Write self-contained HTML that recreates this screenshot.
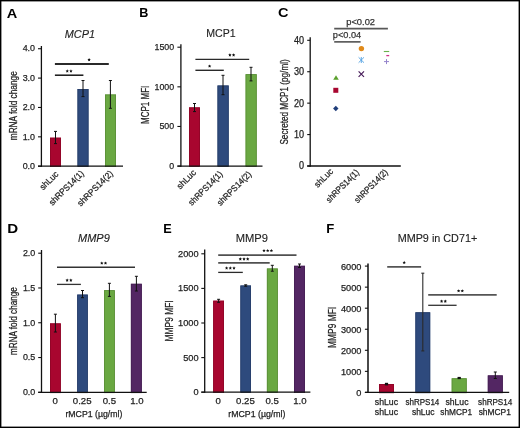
<!DOCTYPE html>
<html><head><meta charset="utf-8"><style>
html,body{margin:0;padding:0;background:#fff;}
svg{display:block;font-family:"Liberation Sans",sans-serif;will-change:transform;}
</style></head><body>
<svg width="520" height="428" viewBox="0 0 520 428">
<rect width="520" height="428" fill="#fff"/>
<rect x="0.7" y="0.7" width="518.6" height="426.6" fill="none" stroke="#000" stroke-width="1.4"/>
<text x="6.85" y="18.1" font-size="13.3" font-weight="bold" textLength="10.51" lengthAdjust="spacingAndGlyphs" fill="#000">A</text>
<text x="139.35" y="16.75" font-size="13.3" font-weight="bold" textLength="9.11" lengthAdjust="spacingAndGlyphs" fill="#000">B</text>
<text x="277.95" y="16.9" font-size="13.3" font-weight="bold" textLength="10.51" lengthAdjust="spacingAndGlyphs" fill="#000">C</text>
<text x="7.15" y="232.95" font-size="13.3" font-weight="bold" textLength="10.91" lengthAdjust="spacingAndGlyphs" fill="#000">D</text>
<text x="163.2" y="232.95" font-size="13.3" font-weight="bold" textLength="8.47" lengthAdjust="spacingAndGlyphs" fill="#000">E</text>
<text x="326.35" y="232.95" font-size="13.3" font-weight="bold" textLength="8.02" lengthAdjust="spacingAndGlyphs" fill="#000">F</text>
<rect x="50" y="137.7" width="11" height="28.5" fill="#a8062f"/>
<rect x="50.40" y="138.10" width="10.20" height="28.50" fill="none" stroke="#8e0527" stroke-width="0.8"/>
<rect x="77.5" y="89" width="11.0" height="77.19999999999999" fill="#2e4a7d"/>
<rect x="77.90" y="89.40" width="10.20" height="77.20" fill="none" stroke="#273e6a" stroke-width="0.8"/>
<rect x="105" y="94.5" width="11" height="71.69999999999999" fill="#6aa842"/>
<rect x="105.40" y="94.90" width="10.20" height="71.70" fill="none" stroke="#5a8e38" stroke-width="0.8"/>
<line x1="55.5" y1="131.4" x2="55.5" y2="143.6" stroke="#111" stroke-width="1.0"/>
<line x1="54.0" y1="131.4" x2="57.0" y2="131.4" stroke="#111" stroke-width="1.0"/>
<line x1="54.0" y1="143.6" x2="57.0" y2="143.6" stroke="#111" stroke-width="1.0"/>
<line x1="83" y1="80.5" x2="83" y2="96.6" stroke="#111" stroke-width="1.0"/>
<line x1="81.5" y1="80.5" x2="84.5" y2="80.5" stroke="#111" stroke-width="1.0"/>
<line x1="81.5" y1="96.6" x2="84.5" y2="96.6" stroke="#111" stroke-width="1.0"/>
<line x1="110.4" y1="80.5" x2="110.4" y2="108.3" stroke="#111" stroke-width="1.0"/>
<line x1="108.9" y1="80.5" x2="111.9" y2="80.5" stroke="#111" stroke-width="1.0"/>
<line x1="108.9" y1="108.3" x2="111.9" y2="108.3" stroke="#111" stroke-width="1.0"/>
<line x1="41.4" y1="46" x2="41.4" y2="166.85" stroke="#111" stroke-width="1.3"/>
<line x1="38" y1="166.2" x2="123" y2="166.2" stroke="#111" stroke-width="1.3"/>
<line x1="38" y1="166.2" x2="41.4" y2="166.2" stroke="#111" stroke-width="1.1"/>
<text x="35.05" y="168.9" font-size="9.8" text-anchor="end" textLength="12.4" lengthAdjust="spacingAndGlyphs" fill="#222" stroke="#222" stroke-width="0.25">0.0</text>
<line x1="38" y1="136.82999999999998" x2="41.4" y2="136.82999999999998" stroke="#111" stroke-width="1.1"/>
<text x="35.05" y="139.53" font-size="9.8" text-anchor="end" textLength="12.4" lengthAdjust="spacingAndGlyphs" fill="#222" stroke="#222" stroke-width="0.25">1.0</text>
<line x1="38" y1="107.45999999999998" x2="41.4" y2="107.45999999999998" stroke="#111" stroke-width="1.1"/>
<text x="35.05" y="110.16" font-size="9.8" text-anchor="end" textLength="12.4" lengthAdjust="spacingAndGlyphs" fill="#222" stroke="#222" stroke-width="0.25">2.0</text>
<line x1="38" y1="78.08999999999999" x2="41.4" y2="78.08999999999999" stroke="#111" stroke-width="1.1"/>
<text x="35.05" y="80.79" font-size="9.8" text-anchor="end" textLength="12.4" lengthAdjust="spacingAndGlyphs" fill="#222" stroke="#222" stroke-width="0.25">3.0</text>
<line x1="38" y1="48.719999999999985" x2="41.4" y2="48.719999999999985" stroke="#111" stroke-width="1.1"/>
<text x="35.05" y="51.42" font-size="9.8" text-anchor="end" textLength="12.4" lengthAdjust="spacingAndGlyphs" fill="#222" stroke="#222" stroke-width="0.25">4.0</text>
<line x1="54.9" y1="64" x2="108.8" y2="64" stroke="#2a2a2a" stroke-width="1.8"/>
<line x1="54.9" y1="75.2" x2="83.4" y2="75.2" stroke="#151515" stroke-width="1.5"/>
<polygon points="89.10,58.05 89.61,59.09 90.76,59.26 89.93,60.07 90.13,61.22 89.10,60.67 88.07,61.22 88.27,60.07 87.44,59.26 88.59,59.09" fill="#111"/>
<polygon points="67.25,69.35 67.76,70.39 68.91,70.56 68.08,71.37 68.28,72.52 67.25,71.97 66.22,72.52 66.42,71.37 65.59,70.56 66.74,70.39" fill="#111"/>
<polygon points="70.95,69.35 71.46,70.39 72.61,70.56 71.78,71.37 71.98,72.52 70.95,71.97 69.92,72.52 70.12,71.37 69.29,70.56 70.44,70.39" fill="#111"/>
<text x="64.75" y="38.2" font-size="11.0" font-style="italic" textLength="30.26" lengthAdjust="spacingAndGlyphs" fill="#222" stroke="#222" stroke-width="0.12">MCP1</text>
<text x="17.35" y="140.25" font-size="10.4" textLength="69.02" lengthAdjust="spacingAndGlyphs" transform="rotate(-90 17.35 140.25)" fill="#222" stroke="#222" stroke-width="0.25">mRNA fold change</text>
<text x="59.0" y="174.65" font-size="8.8" text-anchor="end" textLength="22.43" lengthAdjust="spacingAndGlyphs" transform="rotate(-45 59.0 174.65)" fill="#222" stroke="#222" stroke-width="0.25">shLuc</text>
<text x="84.4" y="174.0" font-size="8.8" text-anchor="end" textLength="45.24" lengthAdjust="spacingAndGlyphs" transform="rotate(-45 84.4 174.0)" fill="#222" stroke="#222" stroke-width="0.25">shRPS14(1)</text>
<text x="113.5" y="174.05" font-size="8.8" text-anchor="end" textLength="46.37" lengthAdjust="spacingAndGlyphs" transform="rotate(-45 113.5 174.05)" fill="#222" stroke="#222" stroke-width="0.25">shRPS14(2)</text>
<rect x="189" y="107.4" width="11" height="58.69999999999999" fill="#a8062f"/>
<rect x="189.40" y="107.80" width="10.20" height="58.70" fill="none" stroke="#8e0527" stroke-width="0.8"/>
<rect x="217.5" y="85.5" width="11.199999999999989" height="80.6" fill="#2e4a7d"/>
<rect x="217.90" y="85.90" width="10.40" height="80.60" fill="none" stroke="#273e6a" stroke-width="0.8"/>
<rect x="245.6" y="74.2" width="11.099999999999994" height="91.89999999999999" fill="#6aa842"/>
<rect x="246.00" y="74.60" width="10.30" height="91.90" fill="none" stroke="#5a8e38" stroke-width="0.8"/>
<line x1="194.5" y1="103.5" x2="194.5" y2="111.6" stroke="#111" stroke-width="1.0"/>
<line x1="193.0" y1="103.5" x2="196.0" y2="103.5" stroke="#111" stroke-width="1.0"/>
<line x1="193.0" y1="111.6" x2="196.0" y2="111.6" stroke="#111" stroke-width="1.0"/>
<line x1="223" y1="75.3" x2="223" y2="94.7" stroke="#111" stroke-width="1.0"/>
<line x1="221.5" y1="75.3" x2="224.5" y2="75.3" stroke="#111" stroke-width="1.0"/>
<line x1="221.5" y1="94.7" x2="224.5" y2="94.7" stroke="#111" stroke-width="1.0"/>
<line x1="251" y1="67.3" x2="251" y2="80.9" stroke="#111" stroke-width="1.0"/>
<line x1="249.5" y1="67.3" x2="252.5" y2="67.3" stroke="#111" stroke-width="1.0"/>
<line x1="249.5" y1="80.9" x2="252.5" y2="80.9" stroke="#111" stroke-width="1.0"/>
<line x1="180.9" y1="44.2" x2="180.9" y2="166.75" stroke="#111" stroke-width="1.3"/>
<line x1="177.4" y1="166.1" x2="262.5" y2="166.1" stroke="#111" stroke-width="1.3"/>
<line x1="177.4" y1="166.1" x2="180.9" y2="166.1" stroke="#111" stroke-width="1.1"/>
<text x="174.17" y="168.9" font-size="9.9" text-anchor="end" textLength="4.9" lengthAdjust="spacingAndGlyphs" fill="#222" stroke="#222" stroke-width="0.25">0</text>
<line x1="177.4" y1="126.46666666666667" x2="180.9" y2="126.46666666666667" stroke="#111" stroke-width="1.1"/>
<text x="174.17" y="129.27" font-size="9.9" text-anchor="end" textLength="14.7" lengthAdjust="spacingAndGlyphs" fill="#222" stroke="#222" stroke-width="0.25">500</text>
<line x1="177.4" y1="86.83333333333333" x2="180.9" y2="86.83333333333333" stroke="#111" stroke-width="1.1"/>
<text x="174.17" y="89.63" font-size="9.9" text-anchor="end" textLength="19.6" lengthAdjust="spacingAndGlyphs" fill="#222" stroke="#222" stroke-width="0.25">1000</text>
<line x1="177.4" y1="47.19999999999999" x2="180.9" y2="47.19999999999999" stroke="#111" stroke-width="1.1"/>
<text x="174.17" y="50.0" font-size="9.9" text-anchor="end" textLength="19.6" lengthAdjust="spacingAndGlyphs" fill="#222" stroke="#222" stroke-width="0.25">1500</text>
<line x1="195.4" y1="59.4" x2="249.2" y2="59.4" stroke="#2a2a2a" stroke-width="1.4"/>
<line x1="195.4" y1="70.3" x2="223.8" y2="70.3" stroke="#2a2a2a" stroke-width="1.4"/>
<polygon points="229.90,53.25 230.41,54.29 231.56,54.46 230.73,55.27 230.93,56.42 229.90,55.88 228.87,56.42 229.07,55.27 228.24,54.46 229.39,54.29" fill="#111"/>
<polygon points="233.60,53.25 234.11,54.29 235.26,54.46 234.43,55.27 234.63,56.42 233.60,55.88 232.57,56.42 232.77,55.27 231.94,54.46 233.09,54.29" fill="#111"/>
<polygon points="209.60,64.45 210.11,65.49 211.26,65.66 210.43,66.47 210.63,67.62 209.60,67.08 208.57,67.62 208.77,66.47 207.94,65.66 209.09,65.49" fill="#111"/>
<text x="206.15" y="36.7" font-size="11.0" textLength="29.46" lengthAdjust="spacingAndGlyphs" fill="#222" stroke="#222" stroke-width="0.12">MCP1</text>
<text x="149.45" y="124.05" font-size="11.0" textLength="38.36" lengthAdjust="spacingAndGlyphs" transform="rotate(-90 149.45 124.05)" fill="#222" stroke="#222" stroke-width="0.25">MCP1 MFI</text>
<text x="196.67" y="173.15" font-size="8.8" text-anchor="end" textLength="23.35" lengthAdjust="spacingAndGlyphs" transform="rotate(-45 196.67 173.15)" fill="#222" stroke="#222" stroke-width="0.25">shLuc</text>
<text x="223.23" y="174.6" font-size="8.8" text-anchor="end" textLength="44.46" lengthAdjust="spacingAndGlyphs" transform="rotate(-45 223.23 174.6)" fill="#222" stroke="#222" stroke-width="0.25">shRPS14(1)</text>
<text x="251.87" y="174.8" font-size="8.8" text-anchor="end" textLength="44.46" lengthAdjust="spacingAndGlyphs" transform="rotate(-45 251.87 174.8)" fill="#222" stroke="#222" stroke-width="0.25">shRPS14(2)</text>
<line x1="310.2" y1="37.3" x2="310.2" y2="166.65" stroke="#111" stroke-width="1.3"/>
<line x1="307.2" y1="166" x2="400.8" y2="166" stroke="#111" stroke-width="1.3"/>
<line x1="307.2" y1="166.0" x2="310.2" y2="166.0" stroke="#111" stroke-width="1.1"/>
<text x="304.12" y="169.4" font-size="10" text-anchor="end" textLength="5.06" lengthAdjust="spacingAndGlyphs" fill="#222" stroke="#222" stroke-width="0.25">0</text>
<line x1="307.2" y1="134.575" x2="310.2" y2="134.575" stroke="#111" stroke-width="1.1"/>
<text x="304.12" y="137.97" font-size="10" text-anchor="end" textLength="10.12" lengthAdjust="spacingAndGlyphs" fill="#222" stroke="#222" stroke-width="0.25">10</text>
<line x1="307.2" y1="103.15" x2="310.2" y2="103.15" stroke="#111" stroke-width="1.1"/>
<text x="304.12" y="106.55" font-size="10" text-anchor="end" textLength="10.12" lengthAdjust="spacingAndGlyphs" fill="#222" stroke="#222" stroke-width="0.25">20</text>
<line x1="307.2" y1="71.725" x2="310.2" y2="71.725" stroke="#111" stroke-width="1.1"/>
<text x="304.12" y="75.12" font-size="10" text-anchor="end" textLength="10.12" lengthAdjust="spacingAndGlyphs" fill="#222" stroke="#222" stroke-width="0.25">30</text>
<line x1="307.2" y1="40.3" x2="310.2" y2="40.3" stroke="#111" stroke-width="1.1"/>
<text x="304.12" y="43.7" font-size="10" text-anchor="end" textLength="10.12" lengthAdjust="spacingAndGlyphs" fill="#222" stroke="#222" stroke-width="0.25">40</text>
<line x1="334.2" y1="28.7" x2="387.9" y2="28.7" stroke="#585858" stroke-width="1.7"/>
<line x1="334.2" y1="41.9" x2="360.6" y2="41.9" stroke="#2a2a2a" stroke-width="1.3"/>
<text x="346.2" y="24.9" font-size="9.8" textLength="28.9" lengthAdjust="spacingAndGlyphs" fill="#333" stroke="#333" stroke-width="0.25">p&lt;0.02</text>
<text x="332.8" y="37.9" font-size="9.8" textLength="28.4" lengthAdjust="spacingAndGlyphs" fill="#333" stroke="#333" stroke-width="0.25">p&lt;0.04</text>
<text x="288.15" y="144.6" font-size="11.0" textLength="85.33" lengthAdjust="spacingAndGlyphs" transform="rotate(-90 288.15 144.6)" fill="#222" stroke="#222" stroke-width="0.25">Secreted MCP1 (pg/ml)</text>
<text x="333.7" y="172.05" font-size="8.8" text-anchor="end" textLength="22.43" lengthAdjust="spacingAndGlyphs" transform="rotate(-45 333.7 172.05)" fill="#222" stroke="#222" stroke-width="0.25">shLuc</text>
<text x="359.69" y="172.96" font-size="8.8" text-anchor="end" textLength="42.67" lengthAdjust="spacingAndGlyphs" transform="rotate(-45 359.69 172.96)" fill="#222" stroke="#222" stroke-width="0.25">shRPS14(1)</text>
<text x="388.3" y="172.85" font-size="8.8" text-anchor="end" textLength="43.24" lengthAdjust="spacingAndGlyphs" transform="rotate(-45 388.3 172.85)" fill="#222" stroke="#222" stroke-width="0.25">shRPS14(2)</text>
<polygon points="336,75.3 333.2,79.8 338.8,79.8" fill="#5aa02c"/>
<rect x="333.3" y="87.8" width="5" height="5" fill="#a8062f"/>
<polygon points="335.8,105.8 338.5,108.5 335.8,111.2 333.1,108.5" fill="#1f3d7a"/>
<circle cx="361.4" cy="48.6" r="2.7" fill="#e08a1a"/>
<path d="M358.6,57.3 L364,62.7 M364,57.3 L358.6,62.7 M361.3,57 L361.3,63" stroke="#5aa5e4" stroke-width="0.95" fill="none"/>
<path d="M358.6,71.4 L364,76.8 M364,71.4 L358.6,76.8" stroke="#4a1f5c" stroke-width="1.2" fill="none"/>
<line x1="383.8" y1="51.5" x2="389.2" y2="51.5" stroke="#6ab04c" stroke-width="1.1"/>
<line x1="386.3" y1="55.6" x2="389.2" y2="55.6" stroke="#d0308a" stroke-width="1.3"/>
<path d="M384,61.6 L389,61.6 M386.5,59.1 L386.5,64.1" stroke="#9484cc" stroke-width="1" fill="none"/>
<rect x="50" y="323.4" width="10.799999999999997" height="68.90000000000003" fill="#a8062f"/>
<rect x="50.40" y="323.80" width="10.00" height="68.90" fill="none" stroke="#8e0527" stroke-width="0.8"/>
<rect x="77.2" y="294.6" width="10.599999999999994" height="97.69999999999999" fill="#2e4a7d"/>
<rect x="77.60" y="295.00" width="9.80" height="97.70" fill="none" stroke="#273e6a" stroke-width="0.8"/>
<rect x="104" y="290.2" width="10.799999999999997" height="102.10000000000002" fill="#6aa842"/>
<rect x="104.40" y="290.60" width="10.00" height="102.10" fill="none" stroke="#5a8e38" stroke-width="0.8"/>
<rect x="130.9" y="283.8" width="10.900000000000006" height="108.5" fill="#532663"/>
<rect x="131.30" y="284.20" width="10.10" height="108.50" fill="none" stroke="#462054" stroke-width="0.8"/>
<line x1="55.4" y1="314.2" x2="55.4" y2="332" stroke="#111" stroke-width="1.0"/>
<line x1="53.9" y1="314.2" x2="56.9" y2="314.2" stroke="#111" stroke-width="1.0"/>
<line x1="53.9" y1="332" x2="56.9" y2="332" stroke="#111" stroke-width="1.0"/>
<line x1="82.5" y1="290.5" x2="82.5" y2="297.7" stroke="#111" stroke-width="1.0"/>
<line x1="81.0" y1="290.5" x2="84.0" y2="290.5" stroke="#111" stroke-width="1.0"/>
<line x1="81.0" y1="297.7" x2="84.0" y2="297.7" stroke="#111" stroke-width="1.0"/>
<line x1="109.4" y1="283.3" x2="109.4" y2="296.4" stroke="#111" stroke-width="1.0"/>
<line x1="107.9" y1="283.3" x2="110.9" y2="283.3" stroke="#111" stroke-width="1.0"/>
<line x1="107.9" y1="296.4" x2="110.9" y2="296.4" stroke="#111" stroke-width="1.0"/>
<line x1="136.4" y1="276.3" x2="136.4" y2="291" stroke="#111" stroke-width="1.0"/>
<line x1="134.9" y1="276.3" x2="137.9" y2="276.3" stroke="#111" stroke-width="1.0"/>
<line x1="134.9" y1="291" x2="137.9" y2="291" stroke="#111" stroke-width="1.0"/>
<line x1="41.5" y1="250" x2="41.5" y2="392.95" stroke="#111" stroke-width="1.3"/>
<line x1="38.2" y1="392.3" x2="146.7" y2="392.3" stroke="#111" stroke-width="1.3"/>
<line x1="38.2" y1="392.3" x2="41.5" y2="392.3" stroke="#111" stroke-width="1.1"/>
<text x="35.28" y="395.2" font-size="9.8" text-anchor="end" textLength="12.4" lengthAdjust="spacingAndGlyphs" fill="#222" stroke="#222" stroke-width="0.25">0.0</text>
<line x1="38.2" y1="357.525" x2="41.5" y2="357.525" stroke="#111" stroke-width="1.1"/>
<text x="35.28" y="360.42" font-size="9.8" text-anchor="end" textLength="12.4" lengthAdjust="spacingAndGlyphs" fill="#222" stroke="#222" stroke-width="0.25">0.5</text>
<line x1="38.2" y1="322.75" x2="41.5" y2="322.75" stroke="#111" stroke-width="1.1"/>
<text x="35.28" y="325.65" font-size="9.8" text-anchor="end" textLength="12.4" lengthAdjust="spacingAndGlyphs" fill="#222" stroke="#222" stroke-width="0.25">1.0</text>
<line x1="38.2" y1="287.975" x2="41.5" y2="287.975" stroke="#111" stroke-width="1.1"/>
<text x="35.28" y="290.88" font-size="9.8" text-anchor="end" textLength="12.4" lengthAdjust="spacingAndGlyphs" fill="#222" stroke="#222" stroke-width="0.25">1.5</text>
<line x1="38.2" y1="253.2" x2="41.5" y2="253.2" stroke="#111" stroke-width="1.1"/>
<text x="35.28" y="256.1" font-size="9.8" text-anchor="end" textLength="12.4" lengthAdjust="spacingAndGlyphs" fill="#222" stroke="#222" stroke-width="0.25">2.0</text>
<line x1="57" y1="267.3" x2="135" y2="267.3" stroke="#333" stroke-width="1.4"/>
<line x1="57" y1="284.4" x2="80.9" y2="284.4" stroke="#333" stroke-width="1.3"/>
<polygon points="101.80,261.45 102.31,262.49 103.46,262.66 102.63,263.47 102.83,264.62 101.80,264.07 100.77,264.62 100.97,263.47 100.14,262.66 101.29,262.49" fill="#111"/>
<polygon points="105.50,261.45 106.01,262.49 107.16,262.66 106.33,263.47 106.53,264.62 105.50,264.07 104.47,264.62 104.67,263.47 103.84,262.66 104.99,262.49" fill="#111"/>
<polygon points="67.15,278.55 67.66,279.59 68.81,279.76 67.98,280.57 68.18,281.72 67.15,281.18 66.12,281.72 66.32,280.57 65.49,279.76 66.64,279.59" fill="#111"/>
<polygon points="70.85,278.55 71.36,279.59 72.51,279.76 71.68,280.57 71.88,281.72 70.85,281.18 69.82,281.72 70.02,280.57 69.19,279.76 70.34,279.59" fill="#111"/>
<text x="78.0" y="242.1" font-size="11.0" font-style="italic" textLength="31.78" lengthAdjust="spacingAndGlyphs" fill="#222" stroke="#222" stroke-width="0.12">MMP9</text>
<text x="17.35" y="355.0" font-size="10.4" textLength="67.72" lengthAdjust="spacingAndGlyphs" transform="rotate(-90 17.35 355.0)" fill="#222" stroke="#222" stroke-width="0.25">mRNA fold change</text>
<text x="55.1" y="403.6" font-size="9.6" text-anchor="middle" fill="#222" stroke="#222" stroke-width="0.25">0</text>
<text x="82.2" y="403.6" font-size="9.6" text-anchor="middle" fill="#222" stroke="#222" stroke-width="0.25">0.25</text>
<text x="109.3" y="403.6" font-size="9.6" text-anchor="middle" fill="#222" stroke="#222" stroke-width="0.25">0.5</text>
<text x="136.8" y="403.6" font-size="9.6" text-anchor="middle" fill="#222" stroke="#222" stroke-width="0.25">1.0</text>
<text x="65.4" y="417.1" font-size="9.2" textLength="56.99" lengthAdjust="spacingAndGlyphs" fill="#222" stroke="#222" stroke-width="0.25">rMCP1 (µg/ml)</text>
<rect x="213.2" y="300.7" width="10.800000000000011" height="91.5" fill="#a8062f"/>
<rect x="213.60" y="301.10" width="10.00" height="91.50" fill="none" stroke="#8e0527" stroke-width="0.8"/>
<rect x="240.4" y="285.5" width="10.599999999999994" height="106.69999999999999" fill="#2e4a7d"/>
<rect x="240.80" y="285.90" width="9.80" height="106.70" fill="none" stroke="#273e6a" stroke-width="0.8"/>
<rect x="266.9" y="268.5" width="10.900000000000034" height="123.69999999999999" fill="#6aa842"/>
<rect x="267.30" y="268.90" width="10.10" height="123.70" fill="none" stroke="#5a8e38" stroke-width="0.8"/>
<rect x="294" y="265.8" width="11" height="126.39999999999998" fill="#532663"/>
<rect x="294.40" y="266.20" width="10.20" height="126.40" fill="none" stroke="#462054" stroke-width="0.8"/>
<line x1="218.6" y1="299.3" x2="218.6" y2="302.3" stroke="#111" stroke-width="1.0"/>
<line x1="217.1" y1="299.3" x2="220.1" y2="299.3" stroke="#111" stroke-width="1.0"/>
<line x1="217.1" y1="302.3" x2="220.1" y2="302.3" stroke="#111" stroke-width="1.0"/>
<line x1="245.7" y1="284.8" x2="245.7" y2="286.2" stroke="#111" stroke-width="1.0"/>
<line x1="244.2" y1="284.8" x2="247.2" y2="284.8" stroke="#111" stroke-width="1.0"/>
<line x1="244.2" y1="286.2" x2="247.2" y2="286.2" stroke="#111" stroke-width="1.0"/>
<line x1="272.3" y1="265.3" x2="272.3" y2="271.2" stroke="#111" stroke-width="1.0"/>
<line x1="270.8" y1="265.3" x2="273.8" y2="265.3" stroke="#111" stroke-width="1.0"/>
<line x1="270.8" y1="271.2" x2="273.8" y2="271.2" stroke="#111" stroke-width="1.0"/>
<line x1="299.5" y1="264" x2="299.5" y2="267.5" stroke="#111" stroke-width="1.0"/>
<line x1="298.0" y1="264" x2="301.0" y2="264" stroke="#111" stroke-width="1.0"/>
<line x1="298.0" y1="267.5" x2="301.0" y2="267.5" stroke="#111" stroke-width="1.0"/>
<line x1="204.7" y1="249.6" x2="204.7" y2="392.84999999999997" stroke="#111" stroke-width="1.3"/>
<line x1="201.3" y1="392.2" x2="310.4" y2="392.2" stroke="#111" stroke-width="1.3"/>
<line x1="201.3" y1="392.2" x2="204.7" y2="392.2" stroke="#111" stroke-width="1.1"/>
<text x="198.57" y="395.1" font-size="9.9" text-anchor="end" textLength="5.12" lengthAdjust="spacingAndGlyphs" fill="#222" stroke="#222" stroke-width="0.25">0</text>
<line x1="201.3" y1="357.59999999999997" x2="204.7" y2="357.59999999999997" stroke="#111" stroke-width="1.1"/>
<text x="198.57" y="360.5" font-size="9.9" text-anchor="end" textLength="15.36" lengthAdjust="spacingAndGlyphs" fill="#222" stroke="#222" stroke-width="0.25">500</text>
<line x1="201.3" y1="323.0" x2="204.7" y2="323.0" stroke="#111" stroke-width="1.1"/>
<text x="198.57" y="325.9" font-size="9.9" text-anchor="end" textLength="20.48" lengthAdjust="spacingAndGlyphs" fill="#222" stroke="#222" stroke-width="0.25">1000</text>
<line x1="201.3" y1="288.4" x2="204.7" y2="288.4" stroke="#111" stroke-width="1.1"/>
<text x="198.57" y="291.3" font-size="9.9" text-anchor="end" textLength="20.48" lengthAdjust="spacingAndGlyphs" fill="#222" stroke="#222" stroke-width="0.25">1500</text>
<line x1="201.3" y1="253.79999999999998" x2="204.7" y2="253.79999999999998" stroke="#111" stroke-width="1.1"/>
<text x="198.57" y="256.7" font-size="9.9" text-anchor="end" textLength="20.48" lengthAdjust="spacingAndGlyphs" fill="#222" stroke="#222" stroke-width="0.25">2000</text>
<line x1="218.2" y1="255.1" x2="296.5" y2="255.1" stroke="#505050" stroke-width="1.8"/>
<line x1="218.2" y1="262.8" x2="269.7" y2="262.8" stroke="#505050" stroke-width="1.8"/>
<line x1="218.2" y1="272.4" x2="242.8" y2="272.4" stroke="#2a2a2a" stroke-width="1.3"/>
<polygon points="264.00,248.95 264.51,249.99 265.66,250.16 264.83,250.97 265.03,252.12 264.00,251.57 262.97,252.12 263.17,250.97 262.34,250.16 263.49,249.99" fill="#111"/>
<polygon points="267.70,248.95 268.21,249.99 269.36,250.16 268.53,250.97 268.73,252.12 267.70,251.57 266.67,252.12 266.87,250.97 266.04,250.16 267.19,249.99" fill="#111"/>
<polygon points="271.40,248.95 271.91,249.99 273.06,250.16 272.23,250.97 272.43,252.12 271.40,251.57 270.37,252.12 270.57,250.97 269.74,250.16 270.89,249.99" fill="#111"/>
<polygon points="240.30,257.25 240.81,258.29 241.96,258.46 241.13,259.27 241.33,260.42 240.30,259.88 239.27,260.42 239.47,259.27 238.64,258.46 239.79,258.29" fill="#111"/>
<polygon points="244.00,257.25 244.51,258.29 245.66,258.46 244.83,259.27 245.03,260.42 244.00,259.88 242.97,260.42 243.17,259.27 242.34,258.46 243.49,258.29" fill="#111"/>
<polygon points="247.70,257.25 248.21,258.29 249.36,258.46 248.53,259.27 248.73,260.42 247.70,259.88 246.67,260.42 246.87,259.27 246.04,258.46 247.19,258.29" fill="#111"/>
<polygon points="226.60,266.35 227.11,267.39 228.26,267.56 227.43,268.37 227.63,269.52 226.60,268.98 225.57,269.52 225.77,268.37 224.94,267.56 226.09,267.39" fill="#111"/>
<polygon points="230.30,266.35 230.81,267.39 231.96,267.56 231.13,268.37 231.33,269.52 230.30,268.98 229.27,269.52 229.47,268.37 228.64,267.56 229.79,267.39" fill="#111"/>
<polygon points="234.00,266.35 234.51,267.39 235.66,267.56 234.83,268.37 235.03,269.52 234.00,268.98 232.97,269.52 233.17,268.37 232.34,267.56 233.49,267.39" fill="#111"/>
<text x="235.75" y="242.1" font-size="11.0" textLength="32.28" lengthAdjust="spacingAndGlyphs" fill="#222" stroke="#222" stroke-width="0.12">MMP9</text>
<text x="173.4" y="341.45" font-size="11.0" textLength="41.1" lengthAdjust="spacingAndGlyphs" transform="rotate(-90 173.4 341.45)" fill="#222" stroke="#222" stroke-width="0.25">MMP9 MFI</text>
<text x="218.2" y="403.6" font-size="9.6" text-anchor="middle" fill="#222" stroke="#222" stroke-width="0.25">0</text>
<text x="245.4" y="403.6" font-size="9.6" text-anchor="middle" fill="#222" stroke="#222" stroke-width="0.25">0.25</text>
<text x="272.2" y="403.6" font-size="9.6" text-anchor="middle" fill="#222" stroke="#222" stroke-width="0.25">0.5</text>
<text x="299.8" y="403.6" font-size="9.6" text-anchor="middle" fill="#222" stroke="#222" stroke-width="0.25">1.0</text>
<text x="228.3" y="417.35" font-size="9.2" textLength="57.19" lengthAdjust="spacingAndGlyphs" fill="#222" stroke="#222" stroke-width="0.25">rMCP1 (µg/ml)</text>
<rect x="379" y="384" width="15" height="8.399999999999977" fill="#a8062f"/>
<rect x="379.40" y="384.40" width="14.20" height="8.40" fill="none" stroke="#8e0527" stroke-width="0.8"/>
<rect x="415.4" y="312.3" width="14.800000000000011" height="80.09999999999997" fill="#2e4a7d"/>
<rect x="415.80" y="312.70" width="14.00" height="80.10" fill="none" stroke="#273e6a" stroke-width="0.8"/>
<rect x="451.7" y="378.3" width="15.0" height="14.099999999999966" fill="#6aa842"/>
<rect x="452.10" y="378.70" width="14.20" height="14.10" fill="none" stroke="#5a8e38" stroke-width="0.8"/>
<rect x="487.8" y="375.4" width="15.0" height="17.0" fill="#532663"/>
<rect x="488.20" y="375.80" width="14.20" height="17.00" fill="none" stroke="#462054" stroke-width="0.8"/>
<line x1="386.5" y1="383.6" x2="386.5" y2="384.6" stroke="#111" stroke-width="1.6"/>
<line x1="384.9" y1="383.6" x2="388.1" y2="383.6" stroke="#111" stroke-width="1.6"/>
<line x1="384.9" y1="384.6" x2="388.1" y2="384.6" stroke="#111" stroke-width="1.6"/>
<line x1="422.8" y1="273.2" x2="422.8" y2="350.9" stroke="#2a2a2a" stroke-width="1.1"/>
<line x1="421.3" y1="273.2" x2="424.3" y2="273.2" stroke="#2a2a2a" stroke-width="1.1"/>
<line x1="421.3" y1="350.9" x2="424.3" y2="350.9" stroke="#2a2a2a" stroke-width="1.1"/>
<line x1="459.2" y1="377.6" x2="459.2" y2="378.4" stroke="#111" stroke-width="1.4"/>
<line x1="457.59999999999997" y1="377.6" x2="460.8" y2="377.6" stroke="#111" stroke-width="1.4"/>
<line x1="457.59999999999997" y1="378.4" x2="460.8" y2="378.4" stroke="#111" stroke-width="1.4"/>
<line x1="495.3" y1="372" x2="495.3" y2="378.5" stroke="#111" stroke-width="1.0"/>
<line x1="493.8" y1="372" x2="496.8" y2="372" stroke="#111" stroke-width="1.0"/>
<line x1="493.8" y1="378.5" x2="496.8" y2="378.5" stroke="#111" stroke-width="1.0"/>
<line x1="368" y1="263.5" x2="368" y2="393.04999999999995" stroke="#2a2a2a" stroke-width="1.7"/>
<line x1="364.9" y1="392.4" x2="509.2" y2="392.4" stroke="#111" stroke-width="1.3"/>
<line x1="364.9" y1="392.4" x2="368" y2="392.4" stroke="#111" stroke-width="1.1"/>
<text x="361.47" y="396.0" font-size="9.9" text-anchor="end" textLength="5.12" lengthAdjust="spacingAndGlyphs" fill="#222" stroke="#222" stroke-width="0.25">0</text>
<line x1="364.9" y1="371.34999999999997" x2="368" y2="371.34999999999997" stroke="#111" stroke-width="1.1"/>
<text x="361.47" y="374.95" font-size="9.9" text-anchor="end" textLength="20.48" lengthAdjust="spacingAndGlyphs" fill="#222" stroke="#222" stroke-width="0.25">1000</text>
<line x1="364.9" y1="350.29999999999995" x2="368" y2="350.29999999999995" stroke="#111" stroke-width="1.1"/>
<text x="361.47" y="353.9" font-size="9.9" text-anchor="end" textLength="20.48" lengthAdjust="spacingAndGlyphs" fill="#222" stroke="#222" stroke-width="0.25">2000</text>
<line x1="364.9" y1="329.25" x2="368" y2="329.25" stroke="#111" stroke-width="1.1"/>
<text x="361.47" y="332.85" font-size="9.9" text-anchor="end" textLength="20.48" lengthAdjust="spacingAndGlyphs" fill="#222" stroke="#222" stroke-width="0.25">3000</text>
<line x1="364.9" y1="308.2" x2="368" y2="308.2" stroke="#111" stroke-width="1.1"/>
<text x="361.47" y="311.8" font-size="9.9" text-anchor="end" textLength="20.48" lengthAdjust="spacingAndGlyphs" fill="#222" stroke="#222" stroke-width="0.25">4000</text>
<line x1="364.9" y1="287.15" x2="368" y2="287.15" stroke="#111" stroke-width="1.1"/>
<text x="361.47" y="290.75" font-size="9.9" text-anchor="end" textLength="20.48" lengthAdjust="spacingAndGlyphs" fill="#222" stroke="#222" stroke-width="0.25">5000</text>
<line x1="364.9" y1="266.09999999999997" x2="368" y2="266.09999999999997" stroke="#111" stroke-width="1.1"/>
<text x="361.47" y="269.7" font-size="9.9" text-anchor="end" textLength="20.48" lengthAdjust="spacingAndGlyphs" fill="#222" stroke="#222" stroke-width="0.25">6000</text>
<line x1="387.2" y1="266.9" x2="421.1" y2="266.9" stroke="#555" stroke-width="1.6"/>
<line x1="428.2" y1="294.9" x2="496.7" y2="294.9" stroke="#555" stroke-width="1.6"/>
<line x1="428.2" y1="305.3" x2="456.6" y2="305.3" stroke="#333" stroke-width="1.3"/>
<polygon points="404.20,260.85 404.71,261.89 405.86,262.06 405.03,262.87 405.23,264.02 404.20,263.48 403.17,264.02 403.37,262.87 402.54,262.06 403.69,261.89" fill="#111"/>
<polygon points="458.60,289.15 459.11,290.19 460.26,290.36 459.43,291.17 459.63,292.32 458.60,291.77 457.57,292.32 457.77,291.17 456.94,290.36 458.09,290.19" fill="#111"/>
<polygon points="462.30,289.15 462.81,290.19 463.96,290.36 463.13,291.17 463.33,292.32 462.30,291.77 461.27,292.32 461.47,291.17 460.64,290.36 461.79,290.19" fill="#111"/>
<polygon points="441.60,299.55 442.11,300.59 443.26,300.76 442.43,301.57 442.63,302.72 441.60,302.18 440.57,302.72 440.77,301.57 439.94,300.76 441.09,300.59" fill="#111"/>
<polygon points="445.30,299.55 445.81,300.59 446.96,300.76 446.13,301.57 446.33,302.72 445.30,302.18 444.27,302.72 444.47,301.57 443.64,300.76 444.79,300.59" fill="#111"/>
<text x="397.65" y="242.2" font-size="10.5" textLength="79.62" lengthAdjust="spacingAndGlyphs" fill="#222" stroke="#222" stroke-width="0.12">MMP9 in CD71+</text>
<text x="335.7" y="347.95" font-size="11.0" textLength="41.1" lengthAdjust="spacingAndGlyphs" transform="rotate(-90 335.7 347.95)" fill="#222" stroke="#222" stroke-width="0.25">MMP9 MFI</text>
<text x="374.8" y="404.6" font-size="8.8" textLength="23.28" lengthAdjust="spacingAndGlyphs" fill="#222" stroke="#222" stroke-width="0.25">shLuc</text>
<text x="405.45" y="404.6" font-size="8.8" textLength="33.88" lengthAdjust="spacingAndGlyphs" fill="#222" stroke="#222" stroke-width="0.25">shRPS14</text>
<text x="445.4" y="404.6" font-size="8.8" textLength="23.08" lengthAdjust="spacingAndGlyphs" fill="#222" stroke="#222" stroke-width="0.25">shLuc</text>
<text x="478.1" y="404.6" font-size="8.8" textLength="34.18" lengthAdjust="spacingAndGlyphs" fill="#222" stroke="#222" stroke-width="0.25">shRPS14</text>
<text x="374.8" y="414.7" font-size="8.8" textLength="23.28" lengthAdjust="spacingAndGlyphs" fill="#222" stroke="#222" stroke-width="0.25">shLuc</text>
<text x="411.9" y="414.7" font-size="8.8" textLength="22.68" lengthAdjust="spacingAndGlyphs" fill="#222" stroke="#222" stroke-width="0.25">shLuc</text>
<text x="440.35" y="414.7" font-size="8.8" textLength="31.84" lengthAdjust="spacingAndGlyphs" fill="#222" stroke="#222" stroke-width="0.25">shMCP1</text>
<text x="478.65" y="414.7" font-size="8.8" textLength="32.24" lengthAdjust="spacingAndGlyphs" fill="#222" stroke="#222" stroke-width="0.25">shMCP1</text>
</svg>
</body></html>
